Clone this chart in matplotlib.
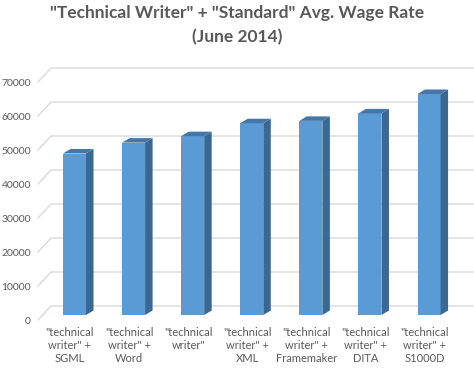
import matplotlib
matplotlib.use("Agg")
import matplotlib.pyplot as plt
from matplotlib.patches import Polygon
import numpy as np

categories = [
    '"technical\nwriter" +\nSGML',
    '"technical\nwriter" +\nWord',
    '"technical\nwriter"',
    '"technical\nwriter" +\nXML',
    '"technical\nwriter" +\nFramemaker',
    '"technical\nwriter" +\nDITA',
    '"technical\nwriter" +\nS1000D',
]
wages = [47500, 50700, 52600, 56400, 57100, 59300, 65000]
yticks = [0, 10000, 20000, 30000, 40000, 50000, 60000, 70000]

TEXT = "#595959"
GRID = "#d9d9d9"
FRONT = "#5b9bd5"
SIDE = "#3b6791"
TOP = "#4676a8"

plt.rcParams["font.family"] = ["Lato", "DejaVu Sans"]

W, H = 474, 368
fig = plt.figure(figsize=(W / 100, H / 100), dpi=100)
# axes = front plane of the pseudo-3d chart, in pixel terms
left_px, bottom_px, width_px, height_px = 38, 48, 422, 238
ax = fig.add_axes([left_px / W, bottom_px / H, width_px / W, height_px / H])

x0, x1 = -0.541, 6.6
ymax = 70000
ax.set_xlim(x0, x1)
ax.set_ylim(0, ymax)

# pixel -> data conversions
px_x = width_px / (x1 - x0)
px_y = height_px / ymax


def dx(px):
    return px / px_x


def dy(px):
    return px / px_y


# back wall gridlines with the little diagonal on the left
gdx, gdy = dx(13), dy(14)
for v in yticks:
    ax.plot([x0, x0 + gdx, x1 + gdx], [v, v + gdy, v + gdy],
            color=GRID, lw=1, zorder=0, clip_on=False)

# bars: front face, side and top
pos = np.arange(len(wages))
bw = 0.39
bdx, bdy = dx(4.5), dy(5)
ddx, ddy = dx(7.5), dy(4.5)
ax.bar(pos + bdx, wages, width=bw, bottom=bdy, color=FRONT, zorder=3)
for p, v in zip(pos, wages):
    xl = p + bdx - bw / 2
    xr = p + bdx + bw / 2
    top = bdy + v
    side = [(xr, bdy), (xr, top), (xr + ddx, top + ddy), (xr + ddx, bdy + ddy)]
    lid = [(xl, top), (xr, top), (xr + ddx, top + ddy), (xl + ddx, top + ddy)]
    ax.add_patch(Polygon(side, closed=True, color=SIDE, lw=0, zorder=3, clip_on=False))
    ax.add_patch(Polygon(lid, closed=True, color=TOP, lw=0, zorder=3, clip_on=False))

ax.set_xticks(pos)
ax.set_xticklabels(categories, fontsize=8, color=TEXT, linespacing=1.25)
ax.set_yticks(yticks)
ax.set_yticklabels([str(v) for v in yticks], fontsize=7.5, color=TEXT)
ax.tick_params(axis="both", length=0)
ax.tick_params(axis="x", pad=5)
ax.tick_params(axis="y", pad=5)
for s in ax.spines.values():
    s.set_visible(False)
ax.patch.set_alpha(0)

fig.text(0.5, 1 - 5 / H, '"Technical Writer" + "Standard" Avg. Wage Rate\n(June 2014)',
         ha="center", va="top", fontsize=12.5, fontweight="bold", color=TEXT,
         linespacing=1.6)

fig.savefig("out.png", dpi=100)
